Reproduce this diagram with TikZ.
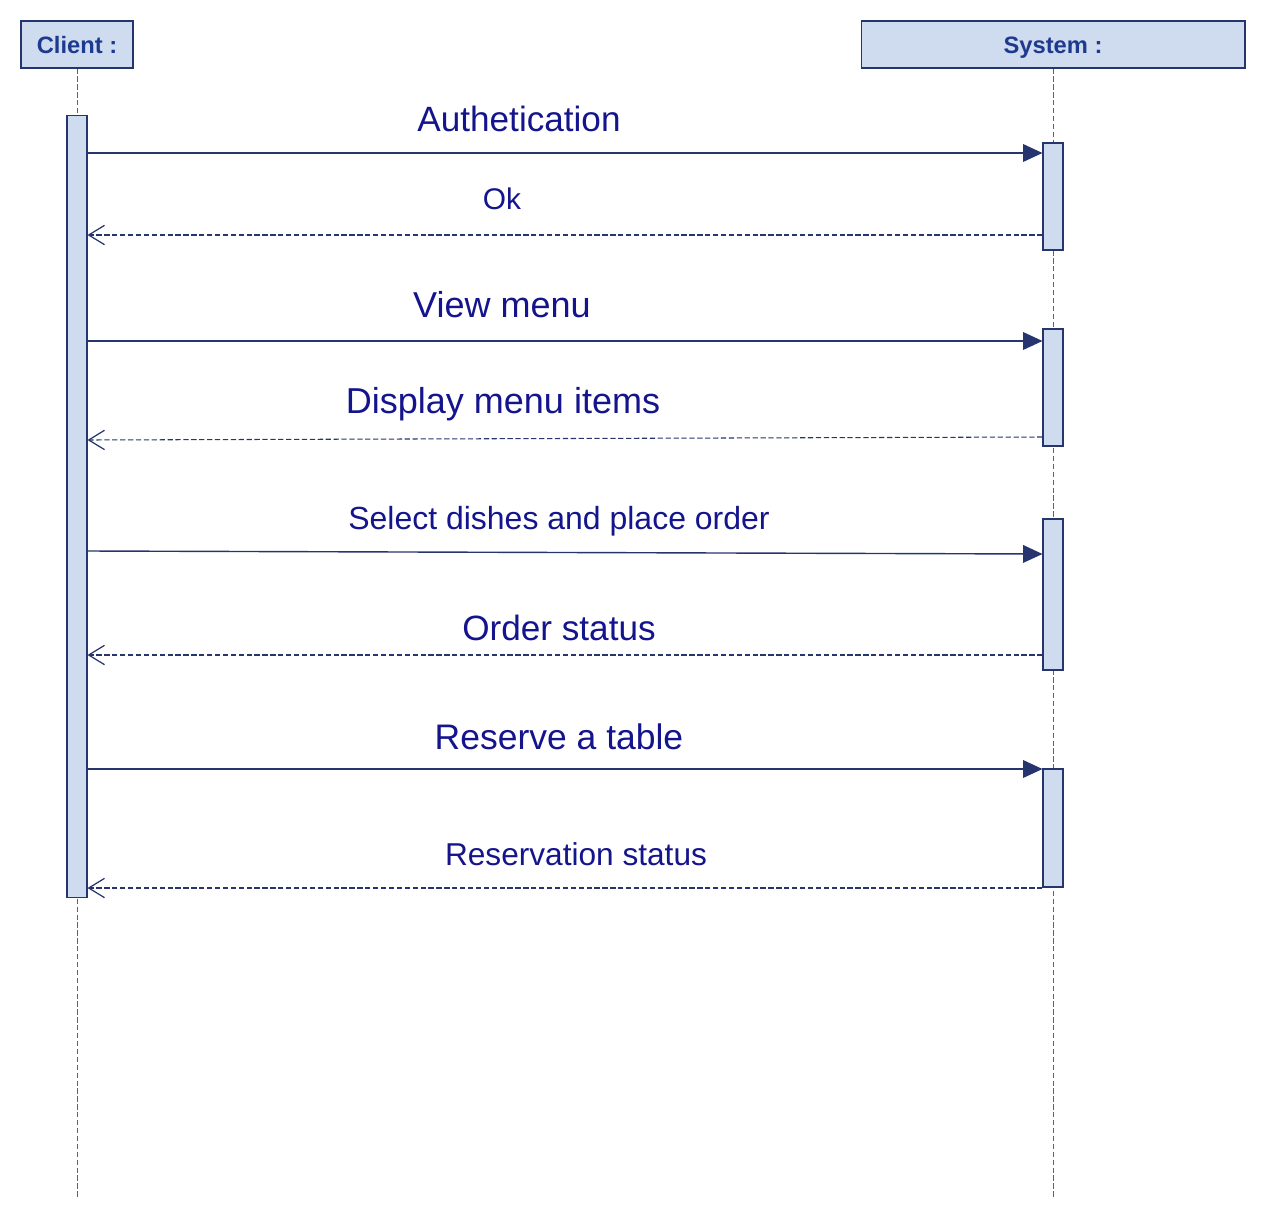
\documentclass[tikz,border=0pt]{standalone}
\usepackage{fontspec}
\setmainfont{Liberation Sans}
\usetikzlibrary{arrows.meta}
\definecolor{msg-blue}{HTML}{14148C}
\definecolor{head-blue}{HTML}{1E3A8E}
\definecolor{box-fill}{HTML}{CFDCEF}
\definecolor{box-line}{HTML}{26356E}
\definecolor{life-line}{HTML}{5A5F80}

\begin{document}
\begin{tikzpicture}[x=0.02cm, y=-0.02cm,
    head/.style={draw=box-line, fill=box-fill, line width=0.6pt, minimum height=0.94cm, inner sep=0, text height=9.7pt, text depth=0pt, text=head-blue, font=\fontsize{13.5}{16}\selectfont\bfseries},
    act/.style={draw=box-line, fill=box-fill, line width=0.6pt, minimum width=0.4cm, inner sep=0},
    life/.style={draw=life-line, dash pattern=on 3pt off 1.5pt, line width=0.5pt},
    call/.style={draw=box-line, line width=0.8pt, -{Triangle[length=11pt, width=10pt]}},
    reply/.style={draw=box-line, line width=0.6pt, dash pattern=on 3pt off 1.5pt, -{Straight Barb[length=9pt, width=11pt, line width=0.7pt]}},
    lab/.style={anchor=base, inner sep=0, text=msg-blue}]
  \useasboundingbox (0,0) rectangle (1266,1220);

  % lifeline heads
  \node[head, minimum width=2.24cm] (client) at (77,44.5) {Client :};
  \node[head, minimum width=7.68cm] (system) at (1053,44.5) {System :};
  \coordinate (client-end) at (77,1199);
  \coordinate (system-end) at (1053,1199);
  \draw[life] (client.south) -- (client-end);
  \draw[life] (system.south) -- (system-end);

  % activation bars
  \node[act, minimum height=15.66cm] (ca) at (77,506.5) {};
  \node[act, minimum height=2.14cm] (sa1) at (1053,196.5) {};
  \node[act, minimum height=2.34cm] (sa2) at (1053,387.5) {};
  \node[act, minimum height=3.02cm] (sa3) at (1053,594.5) {};
  \node[act, minimum height=2.36cm] (sa4) at (1053,828) {};

  % message heights
  \coordinate (auth) at (0,153);
  \coordinate (ok) at (0,235);
  \coordinate (view) at (0,341);
  \coordinate (disp-r) at (0,437);
  \coordinate (disp-l) at (0,440);
  \coordinate (sel-l) at (0,551);
  \coordinate (sel-r) at (0,554);
  \coordinate (ord) at (0,655);
  \coordinate (res) at (0,769);
  \coordinate (rstat) at (0,888);

  % messages
  \draw[call] (ca.east |- auth) -- (sa1.west |- auth);
  \draw[reply] (sa1.west |- ok) -- (ca.east |- ok);
  \draw[call] (ca.east |- view) -- (sa2.west |- view);
  \draw[reply] (sa2.west |- disp-r) -- (ca.east |- disp-l);
  \draw[call] (ca.east |- sel-l) -- (sa3.west |- sel-r);
  \draw[reply] (sa3.west |- ord) -- (ca.east |- ord);
  \draw[call] (ca.east |- res) -- (sa4.west |- res);
  \draw[reply] (sa4.west |- rstat) -- (ca.east |- rstat);

  % message labels
  \node[lab, font=\fontsize{20}{23}\selectfont] (auth-lab) at (519,131) {Authetication};
  \node[lab, font=\fontsize{17}{20}\selectfont] (ok-lab) at (502,209) {Ok};
  \node[lab, font=\fontsize{20.5}{24}\selectfont] (view-lab) at (502,317) {View menu};
  \node[lab, font=\fontsize{20.5}{24}\selectfont] (disp-lab) at (503,413) {Display menu items};
  \node[lab, font=\fontsize{18.2}{21}\selectfont] (sel-lab) at (559,529) {Select dishes and place order};
  \node[lab, font=\fontsize{20}{24}\selectfont] (ord-lab) at (559,640) {Order status};
  \node[lab, font=\fontsize{20.2}{23}\selectfont] (res-lab) at (559,749) {Reserve a table};
  \node[lab, font=\fontsize{18}{21}\selectfont] (rstat-lab) at (576,865) {Reservation status};
\end{tikzpicture}
\end{document}
